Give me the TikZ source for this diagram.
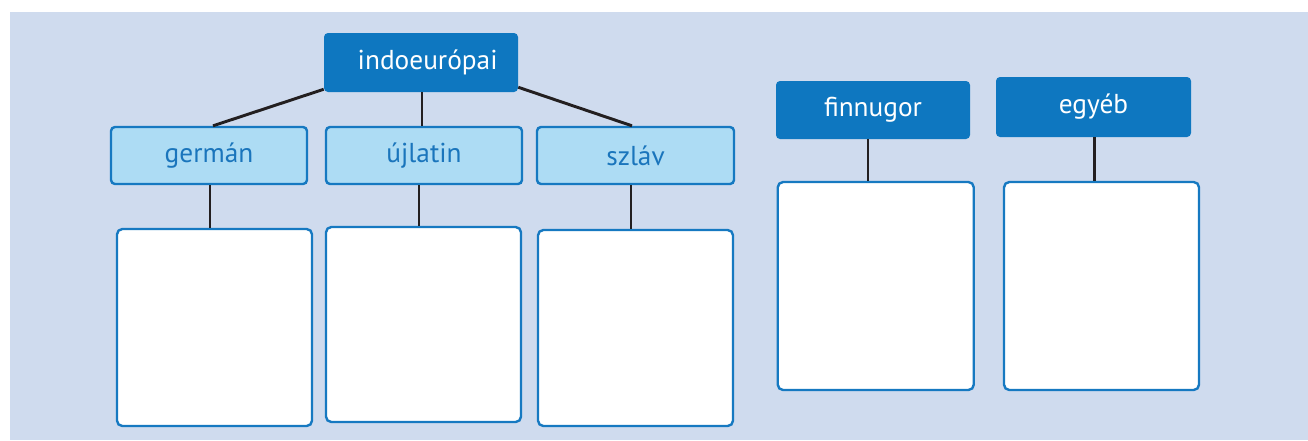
\documentclass[tikz,border=0pt]{standalone}
\usepackage{fontspec}
\setmainfont{PT Sans}
\usetikzlibrary{calc}
\definecolor{bgc}{HTML}{CFDBEE}
\definecolor{dark}{HTML}{0E77C0}
\definecolor{lightf}{HTML}{ADDCF4}
\definecolor{edge}{HTML}{1679C1}
\definecolor{txtb}{HTML}{1A75BC}
\definecolor{linec}{HTML}{231F20}
\tikzset{
  head/.style={fill=dark, draw=none, rounded corners=3pt, text=white, font=\fontsize{20.5}{24}\selectfont, inner sep=0pt},
  sub/.style={fill=lightf, draw=edge, line width=1.8pt, rounded corners=3pt, text=txtb, font=\fontsize{20.5}{24}\selectfont, inner sep=0pt},
  answer/.style={fill=white, draw=edge, line width=1.8pt, rounded corners=4pt, inner sep=0pt},
  conn/.style={draw=linec, line width=2.2pt}
}
\begin{document}
\begin{tikzpicture}[x=0.75pt,y=-0.75pt]
\useasboundingbox (0,0) rectangle (1308,440);
\fill[white] (0,0) rectangle (1308,440);
\fill[bgc] (10,12) rectangle (1308,440);
% top level
\node[head, minimum width=194*0.75pt, minimum height=59*0.75pt] (indo) at (421,62.5) {\hspace{10pt}indoeurópai};
\node[sub, minimum width=196*0.75pt, minimum height=57*0.75pt] (germ) at (209,155.5) {germán};
\node[sub, minimum width=196*0.75pt, minimum height=57*0.75pt] (ujl) at (424,155.5) {újlatin};
\node[sub, minimum width=197*0.75pt, minimum height=57*0.75pt] (szl) at (635.5,155.5) {szláv};
\node[answer, minimum width=195*0.75pt, minimum height=197*0.75pt] (b1) at (214.5,327.5) {};
\node[answer, minimum width=195*0.75pt, minimum height=195*0.75pt] (b2) at (423.5,324.5) {};
\node[answer, minimum width=195*0.75pt, minimum height=196*0.75pt] (b3) at (635.5,328) {};
\node[head, minimum width=194*0.75pt, minimum height=58*0.75pt] (finn) at (873,110) {finnugor};
\node[head, minimum width=195*0.75pt, minimum height=60*0.75pt] (egy) at (1093.5,107) {egyéb};
\node[answer, minimum width=196*0.75pt, minimum height=208*0.75pt] (b4) at (875.75,286) {};
\node[answer, minimum width=195*0.75pt, minimum height=208*0.75pt] (b5) at (1101.5,286) {};
% connectors
\draw[conn] ($(indo.south west)+(0,-3)$) -- ($(germ.north)+(4,0)$);
\draw[conn] ([xshift=0.75pt]indo.south) -- ([xshift=0.75pt]indo.south |- ujl.north);
\draw[conn] ($(indo.south east)+(0,-5)$) -- ($(szl.north)+(-3.5,0)$);
\draw[conn] ([xshift=0.75pt]germ.south) -- ([xshift=0.75pt]germ.south |- b1.north);
\draw[conn] ([xshift=-3.75pt]ujl.south) -- ([xshift=-3.75pt]ujl.south |- b2.north);
\draw[conn] ([xshift=-3.4pt]szl.south) -- ([xshift=-3.4pt]szl.south |- b3.north);
\draw[conn] ([xshift=-3.75pt]finn.south) -- ([xshift=-3.75pt]finn.south |- b4.north);
\draw[conn] ([xshift=0.4pt]egy.south) -- ([xshift=0.4pt]egy.south |- b5.north);
\end{tikzpicture}
\end{document}
